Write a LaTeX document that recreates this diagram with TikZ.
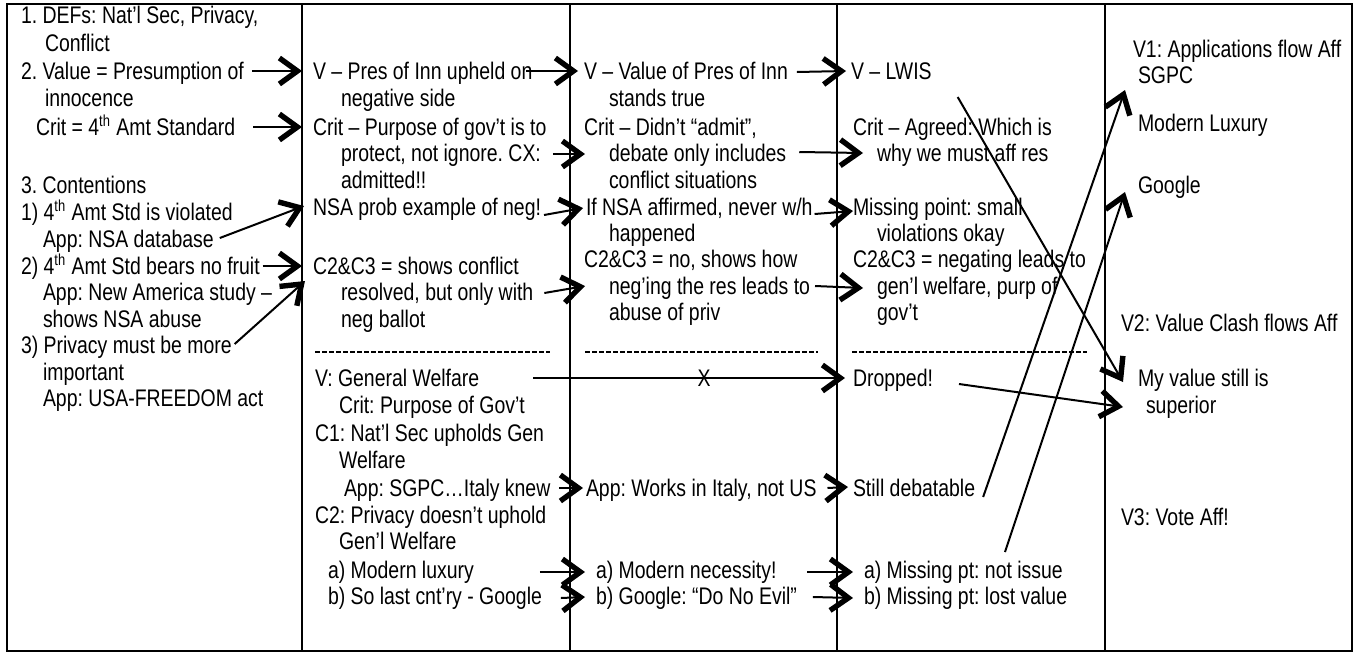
\documentclass[tikz,border=0pt]{standalone}
\usepackage{fontspec}
\setmainfont{Liberation Sans}[FakeStretch=0.81]
\frenchspacing
\usetikzlibrary{arrows.meta,calc}

\begin{document}
\begin{tikzpicture}[x=0.5pt, y=-0.5pt, ->, line width=1pt,
    >={Straight Barb[length=9pt,width=13pt,line width=2.7pt]},
    every node/.style={anchor=west, inner sep=0pt, text height=8.6pt, text depth=0pt,
      font=\fontsize{12}{14}\selectfont},
    sep/.style={-, line width=0.6pt, dash pattern=on 2.5pt off 1pt}]
  \useasboundingbox (0,0) rectangle (1360,654);
  % frame and columns
  \draw[-] (7,4) rectangle (1352,651);
  \foreach \x in {302,570,837,1105}
    \draw[-] (\x,4) -- (\x,651);

  % first column
  \node (c1a) at (20,15) {1. DEFs: Nat’l Sec, Privacy,};
  \node (c1b) at (44,43) {Conflict};
  \node (c1c) at (20,71) {2. Value = Presumption of};
  \node (c1d) at (44,98) {innocence};
  \node (c1e) at (35,127) {Crit = 4\textsuperscript{th} Amt Standard};
  \node (c1f) at (20,185) {3. Contentions};
  \node (c1g) at (20,212) {1) 4\textsuperscript{th} Amt Std is violated};
  \node (c1h) at (42,239) {App: NSA database};
  \node (c1i) at (20,266) {2) 4\textsuperscript{th} Amt Std bears no fruit};
  \node (c1j) at (42,292) {App: New America study --};
  \node (c1k) at (42,319) {shows NSA abuse};
  \node (c1l) at (20,345) {3) Privacy must be more};
  \node (c1m) at (42,372) {important};
  \node (c1n) at (42,398) {App: USA-FREEDOM act};

  % second column
  \node (c2a) at (312,71) {V -- Pres of Inn upheld on};
  \node (c2b) at (340,98) {negative side};
  \node (c2c) at (312,127) {Crit -- Purpose of gov’t is to};
  \node (c2d) at (340,153) {protect, not ignore. CX:};
  \node (c2e) at (340,180) {admitted!!};
  \node (c2f) at (312,207) {NSA prob example of neg!};
  \node (c2g) at (312,266) {C2\&C3 = shows conflict};
  \node (c2h) at (340,292) {resolved, but only with};
  \node (c2i) at (340,319) {neg ballot};
  \draw[sep] (315,352) -- (550,352);
  \node (c2j) at (314,378) {V: General Welfare};
  \node (c2k) at (338,405) {Crit: Purpose of Gov’t};
  \node (c2l) at (314,433) {C1: Nat’l Sec upholds Gen};
  \node (c2m) at (338,460) {Welfare};
  \node (c2n) at (343,488) {App: SGPC…Italy knew};
  \node (c2o) at (314,515) {C2: Privacy doesn’t uphold};
  \node (c2p) at (338,541) {Gen’l Welfare};
  \node (c2q) at (327,570) {a) Modern luxury};
  \node (c2r) at (327,596) {b) So last cnt’ry - Google};

  % third column
  \node (c3a) at (583,71) {V -- Value of Pres of Inn};
  \node (c3b) at (608,98) {stands true};
  \node (c3c) at (583,127) {Crit -- Didn’t “admit”,};
  \node (c3d) at (608,153) {debate only includes};
  \node (c3e) at (608,180) {conflict situations};
  \node (c3f) at (585,207) {If NSA affirmed, never w/h};
  \node (c3g) at (608,233) {happened};
  \node (c3h) at (583,259) {C2\&C3 = no, shows how};
  \node (c3i) at (608,286) {neg’ing the res leads to};
  \node (c3j) at (608,312) {abuse of priv};
  \draw[sep] (585,352) -- (818,352);
  \node (c3k) at (585,488) {App: Works in Italy, not US};
  \node (c3l) at (595,570) {a) Modern necessity!};
  \node (c3m) at (595,596) {b) Google: “Do No Evil”};

  % fourth column
  \node (c4a) at (850,71) {V -- LWIS};
  \node (c4b) at (852,127) {Crit -- Agreed: Which is};
  \node (c4c) at (876,153) {why we must aff res};
  \node (c4d) at (852,207) {Missing point: small};
  \node (c4e) at (876,233) {violations okay};
  \node (c4f) at (852,259) {C2\&C3 = negating leads to};
  \node (c4g) at (876,286) {gen’l welfare, purp of};
  \node (c4h) at (876,312) {gov’t};
  \draw[sep] (852,352) -- (1087,352);
  \node (c4i) at (852,378) {Dropped!};
  \node (c4j) at (852,488) {Still debatable};
  \node (c4k) at (863,570) {a) Missing pt: not issue};
  \node (c4l) at (863,596) {b) Missing pt: lost value};

  % fifth column
  \node (c5a) at (1132,49) {V1: Applications flow Aff};
  \node (c5b) at (1137,75) {SGPC};
  \node (c5c) at (1137,123) {Modern Luxury};
  \node (c5d) at (1137,185) {Google};
  \node (c5e) at (1120,323) {V2: Value Clash flows Aff};
  \node (c5f) at (1137,378) {My value still is};
  \node (c5g) at (1145,405) {superior};
  \node (c5h) at (1120,517) {V3: Vote Aff!};

  % case to first rebuttal
  \draw ($(c1c.east)+(7,0)$) -- ($(c2a.west)+(-10,0)$);
  \draw ($(c1e.east)+(17,0)$) -- ($(c2c.west)+(-10,0)$);
  \draw ($(c1h.east)+(5,-1)$) -- ($(c2f.west)+(-8,-1)$);
  \draw ($(c1i.east)+(2,0)$) -- ($(c2g.west)+(-10,0)$);
  \draw ($(c1l.east)+(2,-1)$) -- ($(c2h.west)+(-35,-11)$);

  % second to third column
  \draw ($(c2a.east)+(-7,0)$) -- ($(c3a.west)+(-5,0)$);
  \draw ($(c2d.east)+(11,1)$) -- ($(c3d.west)+(-23,1)$);
  \draw ($(c2f.east)+(2,8)$) -- ($(c3f.west)+(-2,1)$);
  \draw ($(c2h.east)+(10,1)$) -- ($(c3i.west)+(-23,0)$);
  \draw ($(c2j.east)+(53,0)$) -- node[anchor=center, pos=0.548] {X} ($(c4i.west)+(-7,0)$);
  \draw ($(c2n.east)+(8,0)$) -- ($(c3k.west)+(-2,0)$);
  \draw ($(c2q.east)+(65,2)$) -- ($(c3l.west)+(-10,2)$);
  \draw ($(c2r.east)+(18,2)$) -- ($(c3m.west)+(-10,1)$);

  % third to fourth column
  \draw ($(c3a.east)+(8,1)$) -- ($(c4a.west)+(-4,0)$);
  \draw ($(c3d.east)+(12,-1)$) -- ($(c4c.west)+(-13,0)$);
  \draw ($(c3f.east)+(1,7)$) -- ($(c4d.west)+(1,4)$);
  \draw ($(c3i.east)+(4,0)$) -- ($(c4g.west)+(-13,2)$);
  \draw ($(c3k.east)+(10,0)$) -- ($(c4j.west)+(-4,-1)$);
  \draw ($(c3l.east)+(30,2)$) -- ($(c4k.west)+(-10,2)$);
  \draw ($(c3m.east)+(15,1)$) -- ($(c4l.west)+(-10,2)$);

  % into the voters
  \draw ($(c4a.east)+(25,26)$) -- ($(c5f.west)+(-14,4)$);
  \draw ($(c4i.east)+(25,6)$) -- ($(c5g.west)+(-22,2)$);
  \draw ($(c4j.east)+(7,9)$) -- ($(c5b.west)+(-12,15)$);
  \draw ($(c4k.west)+(142,-18)$) -- ($(c5d.west)+(-12,7)$);
\end{tikzpicture}
\end{document}
